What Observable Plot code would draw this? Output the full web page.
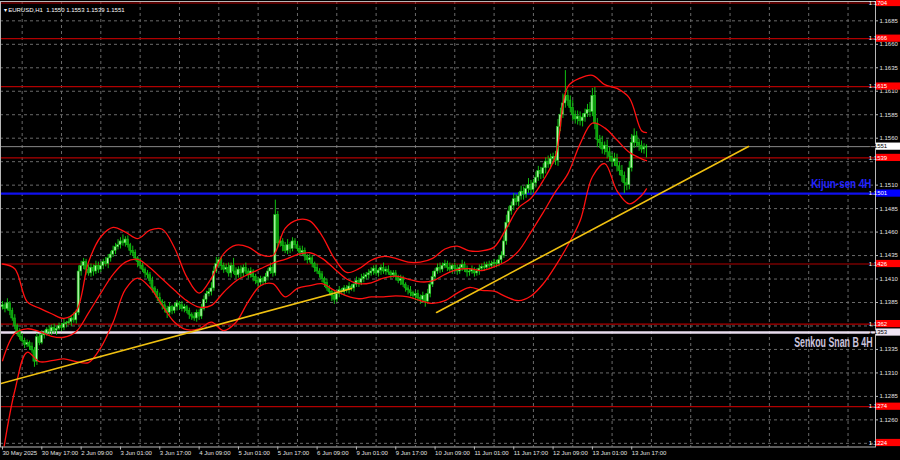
<!DOCTYPE html>
<html><head><meta charset="utf-8">
<script src="https://cdn.jsdelivr.net/npm/d3@7"></script>
<script src="https://cdn.jsdelivr.net/npm/@observablehq/plot@0.6"></script>
<style>
html,body{margin:0;padding:0;background:#000;}
#chart{position:relative;width:900px;height:460px;overflow:hidden;background:#000;}
</style></head><body><div id="chart"></div>
<script>
// ---- data (candle prices in pips above BASE) ----
const BASE = 1.1300;
const symbolHeader = "EURUSD,H1  1.1550 1.1553 1.1539 1.1551";
const firstOpenPips = 80;
const closePips = [
 82,78,84,76,68,60,54,48,44,40,
 42,38,34,22,48,42,50,52,56,54,
 58,55,57,60,58,62,63,64,68,66,
 74,118,124,128,120,116,122,118,124,120,
 124,128,126,132,136,140,144,146,150,148,
 152,146,140,138,132,128,124,120,116,114,
 108,100,96,90,86,82,78,74,80,76,
 80,84,82,78,80,76,72,70,68,74,
 70,78,88,94,96,100,118,126,130,124,
 120,122,116,124,118,114,120,116,122,118,
 114,118,112,108,106,110,107,112,118,122,
 116,178,148,150,145,140,146,142,150,146,
 142,138,140,134,130,132,126,122,118,115,
 110,106,100,96,92,88,94,98,96,100,
 98,102,100,104,108,106,110,112,114,116,
 118,121,116,119,122,118,120,117,114,116,
 112,108,110,104,100,98,95,92,94,90,
 88,92,86,94,104,112,118,122,120,124,
 126,122,120,124,121,118,122,125,120,117,
 118,120,116,118,121,123,122,125,124,126,
 127,126,130,135,150,170,182,188,195,192,
 198,203,200,206,210,205,212,218,225,222,
 228,235,232,238,240,236,272,285,297,305,
 300,292,285,280,283,278,282,286,290,288,
 305,275,258,255,248,252,245,240,235,238,
 230,225,220,212,210,228,255,262,255,252,
 248,250,251
];
const upWickPips = [
 4,3,5,2,3,4,2,3,4,3, 3,2,4,3,4,3,5,3,2,4, 3,4,2,3,3,5,2,4,3,6,
 3,6,5,4,3,5,4,3,5,4, 4,3,5,4,3,5,4,6,4,7, 3,4,2,5,3,2,4,3,2,3,
 3,4,2,3,5,2,4,3,5,2, 4,3,2,4,3,2,3,2,4,3, 3,5,4,3,4,6,5,7,3,4,
 3,4,5,3,8,4,3,4,3,5, 3,4,2,3,4,3,2,4,3,5, 3,16,4,5,3,4,6,3,4,3,
 4,3,5,3,2,4,3,2,4,3, 3,2,4,3,2,5,3,4,2,3, 3,4,2,3,4,3,5,4,3,4,
 4,3,4,2,3,5,3,4,2,3, 3,2,4,3,2,3,4,2,3,4, 3,4,2,5,4,6,3,4,5,3,
 4,3,5,2,3,4,3,5,3,4, 3,4,2,3,4,3,5,3,4,3, 4,3,5,4,6,8,5,4,6,5,
 4,6,5,4,7,5,4,6,5,4, 5,4,6,5,4,6,8,7,10,27, 6,5,8,4,6,5,4,5,6,8,
 8,9,6,5,7,4,6,5,4,6, 5,4,6,4,5,7,9,8,5,4, 5,4,2
];
const downWickPips = [
 3,4,2,5,3,4,5,3,2,4, 3,4,3,6,4,3,2,4,3,4, 4,3,5,2,4,3,4,2,5,3,
 4,3,5,4,6,3,4,5,3,4, 3,4,3,5,4,3,4,3,4,3, 4,3,5,4,3,6,4,3,5,4,
 4,5,3,4,3,5,4,6,3,4, 3,4,5,3,4,3,5,4,3,4, 4,3,2,4,3,4,3,2,4,5,
 4,3,4,5,3,4,3,5,4,3, 4,3,5,4,6,3,4,3,4,3, 4,3,5,4,6,3,4,5,3,4,
 3,4,3,5,4,3,4,5,3,4, 4,5,3,4,6,5,3,4,3,4, 3,4,3,4,3,5,3,4,3,4,
 3,4,3,4,5,3,4,3,4,3, 4,3,5,3,4,5,4,3,5,4, 5,4,6,3,4,3,4,3,4,3,
 3,4,3,5,3,4,3,4,3,5, 4,3,4,3,4,3,4,3,4,3, 3,4,3,4,3,4,5,4,5,4,
 5,4,6,4,5,6,4,5,4,6, 5,6,4,5,6,5,6,5,4,5, 6,5,7,5,6,5,6,5,4,6,
 5,6,8,6,5,6,7,5,6,5, 6,5,7,11,6,5,4,6,5,6, 4,5,11
];

const bandBars = [0,5,10,15,20,25,30,35,40,45,50,55,60,65,70,75,80,85,90,95,100,105,110,115,120,125,130,135,140,145,150,155,160,165,170,175,180,185,190,195,200,205,210,215,220,225,230,235,240,245,250,255,260,262];
const upperPips = [126,121,86,79,73,68,76,128,155,165,160,153,162,163,143,112,95,111,137,146,144,136,135,164,173,172,156,132,117,121,130,134,132,128,128,132,142,145,140,140,144,164,186,196,215,241,315,324,327,317,313,303,268,266];
const middlePips = [23,52,57,54,49,48,54,74,95,115,128,131,122,110,98,87,80,82,96,108,115,121,127,131,136,138,132,121,110,105,106,111,113,110,107,108,115,120,121,119,123,129,140,160,181,203,222,254,276,271,258,245,238,236];
const lowerPips = [-79,-9,32,22,23,25,22,21,37,64,99,111,101,82,64,56,57,64,55,64,86,103,105,91,100,103,105,98,92,89,91,91,92,91,87,84,87,95,101,98,97,91,87,92,105,124,146,172,219,233,204,190,199,206];

const trend1Bars = [-1, 142];
const trend1Prices = [1.12985, 1.14000];
const trend2Bars = [176.6, 303.5];
const trend2Prices = [1.13744, 1.15512];

const redLevels = [1.1704, 1.1666, 1.1615, 1.1539, 1.1426, 1.1362, 1.1274, 1.1224];
const bidPrice = 1.1551;
const kijunPrice = 1.1501;
const senkouPrice = 1.1353;
const kijunLabel = "Kijun-sen 4H";
const senkouLabel = "Senkou Snan B 4H";

const yTicks = [1.1235,1.1260,1.1285,1.1310,1.1335,1.1360,1.1385,1.1410,1.1435,1.1460,1.1485,1.1510,1.1535,1.1560,1.1585,1.1610,1.1635,1.1660,1.1685];
const yTickLabels = [1.1260,1.1285,1.1310,1.1335,1.1385,1.1410,1.1435,1.1460,1.1485,1.1510,1.1560,1.1585,1.1610,1.1635,1.1660,1.1685];
const xLabelBars = [0,16,32,48,64,80,96,112,128,144,160,176,192,208,224,240,256];
const xLabels = ["30 May 2025","30 May 17:00","2 Jun 09:00","3 Jun 01:00","3 Jun 17:00","4 Jun 09:00","5 Jun 01:00","5 Jun 17:00","6 Jun 09:00","9 Jun 01:00","9 Jun 17:00","10 Jun 09:00","11 Jun 01:00","11 Jun 17:00","12 Jun 09:00","13 Jun 01:00","13 Jun 17:00"];
const gridBars = [8,24,40,56,72,88,104,120,136,152,168,184,200,216,232,248,264,280,296,312,328,344];

// ---- build tables ----
const px = p => +(BASE + p / 10000).toFixed(5);
const candles = closePips.map((c, i) => {
  const o = i === 0 ? firstOpenPips : closePips[i - 1];
  return {i, open: px(o), close: px(c), high: px(Math.max(o, c) + upWickPips[i]), low: px(Math.min(o, c) - downWickPips[i]), up: c >= o};
});
const band = (arr) => arr.map((p, k) => ({i: bandBars[k], p: px(p)}));
const trend = (bars, prices) => bars.map((b, k) => ({i: b, p: prices[k]}));

const FONT = "Liberation Sans, Arial, sans-serif";
const plot = Plot.plot({
  width: 900, height: 460,
  marginLeft: 0, marginRight: 25, marginTop: 1, marginBottom: 13.5,
  x: {domain: [-0.8137, 355.17], axis: null},
  y: {domain: [1.12311, 1.17056], axis: null},
  style: {background: "#000", color: "#fff", fontFamily: FONT, fontSize: "6px", overflow: "visible"},
  marks: [
    Plot.ruleX(gridBars, {x: d => d, stroke: "#6a6a6a", strokeDasharray: "3,3"}),
    Plot.ruleY(yTicks, {y: d => d, stroke: "#6a6a6a", strokeDasharray: "3,3"}),
    Plot.ruleY(redLevels, {y: d => d, stroke: "#b00000", strokeWidth: 1.2, clip: true}),
    Plot.ruleY([bidPrice], {y: d => d, stroke: "#8a8a8a"}),
    Plot.ruleY([kijunPrice], {y: d => d, stroke: "#1010f0", strokeWidth: 2.2}),
    Plot.ruleY([senkouPrice], {y: d => d, stroke: "#e8dcee", strokeWidth: 2.4}),
    Plot.ruleX(candles, {x: "i", y1: "low", y2: "high", stroke: "#10c010", strokeWidth: 1}),
    Plot.rect(candles, {x1: d => d.i - 0.42, x2: d => d.i + 0.42, y1: "open", y2: "close", fill: d => d.up ? "#b4f5ac" : "#109a10", stroke: "#10c010", strokeWidth: 0.6}),
    Plot.line(band(upperPips), {x: "i", y: "p", stroke: "#ff1010", strokeWidth: 1.3, curve: "catmull-rom", clip: true}),
    Plot.line(band(middlePips), {x: "i", y: "p", stroke: "#ff1010", strokeWidth: 1.3, curve: "catmull-rom", clip: true}),
    Plot.line(band(lowerPips), {x: "i", y: "p", stroke: "#ff1010", strokeWidth: 1.3, curve: "catmull-rom", clip: true}),
    Plot.line(trend(trend1Bars, trend1Prices), {x: "i", y: "p", stroke: "#f0c010", strokeWidth: 1.6, clip: true}),
    Plot.line(trend(trend2Bars, trend2Prices), {x: "i", y: "p", stroke: "#f0c010", strokeWidth: 1.6, clip: true}),
    Plot.frame({stroke: "#b8b8b8"}),
    Plot.axisY({anchor: "right", ticks: yTickLabels, tickFormat: d => d.toFixed(4), tickSize: 2, tickPadding: 2, stroke: "#b8b8b8", fill: "#e0e0e0", fontSize: 6, label: null}),
    Plot.axisX({anchor: "bottom", ticks: xLabelBars, tickFormat: d => xLabels[xLabelBars.indexOf(d)], textAnchor: "start", tickSize: 3, tickPadding: 1, stroke: "#b8b8b8", fill: "#e0e0e0", fontSize: 6, label: null}),
    Plot.text([kijunLabel], {text: d => d, y: kijunPrice, frameAnchor: "right", dx: -4, dy: -9.5, textAnchor: "end", fill: "#2222ff", fontSize: 12.5, fontWeight: "bold", className: "kijun-lbl"}),
    Plot.text([senkouLabel], {text: d => d, y: senkouPrice, frameAnchor: "right", dx: -3, dy: 10, textAnchor: "end", fill: "#cbc3dc", fontSize: 14, fontWeight: "bold", className: "senkou-lbl"}),
    Plot.text([symbolHeader], {text: d => "\u25BE " + d, frameAnchor: "top-left", dx: 3, dy: 6, textAnchor: "start", fill: "#ffffff", fontSize: 6})
  ]
});
document.getElementById("chart").appendChild(plot);

// squeeze the two indicator captions horizontally (tall, narrow lettering)
function squeeze(sel, sx) {
  d3.select(plot).selectAll(sel).each(function () {
    const t = this.getAttribute("transform") || "";
    this.setAttribute("transform", t + ` scale(${sx},1)`);
  });
}
squeeze(".kijun-lbl text", 0.79);
squeeze(".senkou-lbl text", 0.63);

// price tags on the right edge, placed with Plot's y scale
const ys = plot.scale("y");
const svg = d3.select(plot);
const tags = [
  ...redLevels.map(p => ({p, bg: "#ff0000", fg: "#ffffff"})),
  {p: bidPrice, bg: "#ffffff", fg: "#000000"},
  {p: kijunPrice, bg: "#0000ff", fg: "#ffffff"},
  {p: senkouPrice, bg: "#f0e6f4", fg: "#000000"}
];
const yMin = ys.apply(ys.domain[0]);
const g = svg.append("g");
for (const t of tags) {
  let yy = ys.apply(t.p);
  if (yy > yMin - 4) yy = yMin - 4;
  g.append("rect").attr("x", 876).attr("y", yy - 3.6).attr("width", 24).attr("height", 7.2).attr("fill", t.bg);
  g.append("text").attr("x", 878).attr("y", yy + 2.1).attr("fill", t.fg).attr("font-size", 6).attr("font-family", FONT).text(t.p.toFixed(4));
}
</script></body></html>
